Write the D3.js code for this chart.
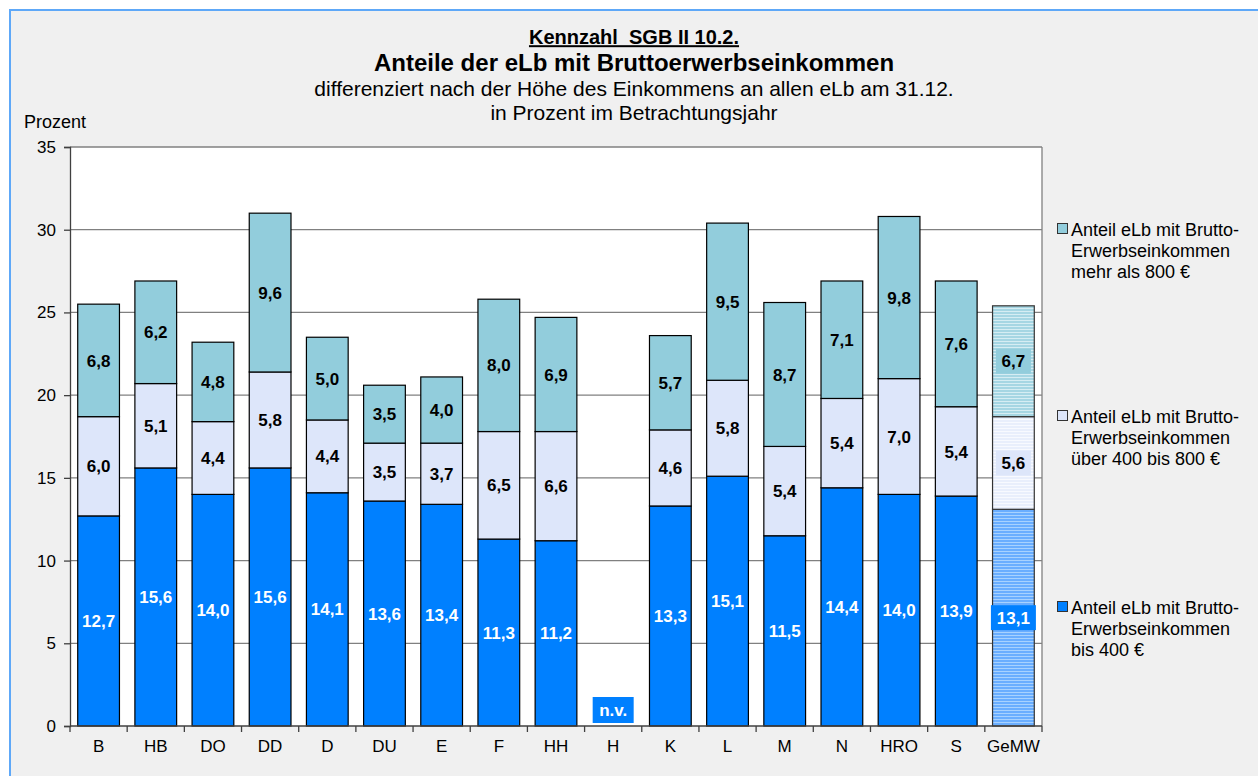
<!DOCTYPE html>
<html>
<head>
<meta charset="utf-8">
<script src="https://cdn.jsdelivr.net/npm/d3@7"></script>
<style>
  html, body { margin: 0; padding: 0; background: #ffffff; }
  svg { display: block; font-family: "Liberation Sans", Arial, sans-serif; }
</style>
</head>
<body>
<svg id="chart" width="1258" height="776"></svg>
<script>
// ---------- data ----------
const categories = ["B","HB","DO","DD","D","DU","E","F","HH","H","K","L","M","N","HRO","S","GeMW"];
const bis400      = [12.7,15.6,14.0,15.6,14.1,13.6,13.4,11.3,11.2,null,13.3,15.1,11.5,14.4,14.0,13.9,13.1];
const von400bis800= [6.0, 5.1, 4.4, 5.8, 4.4, 3.5, 3.7, 6.5, 6.6, null, 4.6, 5.8, 5.4, 5.4, 7.0, 5.4, 5.6];
const mehr800     = [6.8, 6.2, 4.8, 9.6, 5.0, 3.5, 4.0, 8.0, 6.9, null, 5.7, 9.5, 8.7, 7.1, 9.8, 7.6, 6.7];
const yTicks = [0,5,10,15,20,25,30,35];
const seriesNames = [
  ["Anteil eLb mit Brutto-","Erwerbseinkommen","mehr als 800 €"],
  ["Anteil eLb mit Brutto-","Erwerbseinkommen","über 400 bis 800 €"],
  ["Anteil eLb mit Brutto-","Erwerbseinkommen","bis 400 €"]
];
const titleLines = ["Kennzahl  SGB II 10.2.", "Anteile der eLb mit Bruttoerwerbseinkommen",
  "differenziert nach der Höhe des Einkommens an allen eLb am 31.12.", "in Prozent im Betrachtungsjahr"];
const yAxisTitle = "Prozent";
const missingLabel = "n.v.";
const averageCategory = "GeMW";

// ---------- styles ----------
const colBottom = "#0080ff", colMid = "#dde6fa", colTop = "#92cddc";

const svg = d3.select("#chart");
const defs = svg.append("defs");
function stripe(id, a, b) {
  const p = defs.append("pattern").attr("id", id).attr("patternUnits","userSpaceOnUse")
    .attr("width", 8).attr("height", 3);
  p.append("rect").attr("width",8).attr("height",3).attr("fill", b);
  p.append("rect").attr("width",8).attr("height",2).attr("fill", a);
}
stripe("patBottom", "#6aaeff", "#a8d2ff");
stripe("patMid", "#e9effc", "#f8faff");
stripe("patTop", "#a6d6e3", "#d6edf3");

// frame
svg.append("rect").attr("x",0).attr("y",0).attr("width",1258).attr("height",776).attr("fill","#ffffff");
svg.append("rect").attr("x",10).attr("y",10).attr("width",1300).attr("height",800)
  .attr("fill","#f0f0f0").attr("stroke","#5ea8f8").attr("stroke-width",2);

const L = 70, R = 1042, T = 147, B = 726;
const x = d3.scaleBand().domain(categories).range([L, R]).paddingInner(0.27).paddingOuter(0.135);
const y = d3.scaleLinear().domain([0, 35]).range([B, T]);

// plot area
svg.append("rect").attr("x",L).attr("y",T).attr("width",R-L).attr("height",B-T).attr("fill","#ffffff");
svg.append("g").selectAll("line").data(yTicks.filter(d => d > 0)).join("line")
  .attr("x1",L).attr("x2",R).attr("y1",d=>y(d)).attr("y2",d=>y(d))
  .attr("stroke","#808080").attr("stroke-width",1.3);
svg.append("line").attr("x1",R).attr("x2",R).attr("y1",T).attr("y2",B)
  .attr("stroke","#808080").attr("stroke-width",1.3);

// stacked data
const stackData = categories.map((c,i) => ({cat:c, s0: bis400[i], s1: von400bis800[i], s2: mehr800[i]}));
const stack = d3.stack().keys(["s0","s1","s2"]).value((d,k) => d[k] == null ? 0 : d[k]);
const layers = stack(stackData);
const fills = [colBottom, colMid, colTop];
const pats = ["url(#patBottom)", "url(#patMid)", "url(#patTop)"];
const labelCols = ["#ffffff", "#000000", "#000000"];

layers.forEach((layer, li) => {
  const g = svg.append("g");
  g.selectAll("rect").data(layer.filter(d => d.data["s"+li] != null)).join("rect")
    .attr("x", d => x(d.data.cat)).attr("width", x.bandwidth())
    .attr("y", d => y(d[1])).attr("height", d => y(d[0]) - y(d[1]))
    .attr("fill", d => d.data.cat === averageCategory ? pats[li] : fills[li])
    .attr("stroke", d => d.data.cat === averageCategory ? "#333" : "#000")
    .attr("stroke-width", 1.2);
});

// labels
layers.forEach((layer, li) => {
  const g = svg.append("g");
  layer.filter(d => d.data["s"+li] != null).forEach(d => {
    const cx = x(d.data.cat) + x.bandwidth()/2;
    const cy = (y(d[0]) + y(d[1]))/2;
    const txt = d3.format(".1f")(d.data["s"+li]).replace(".", ",");
    if (d.data.cat === averageCategory) {
      const w = li === 0 ? 45 : 35;
      g.append("rect").attr("x", cx - w/2).attr("y", cy - 12.5).attr("width", w).attr("height", 25)
        .attr("fill", fills[li]);
    }
    g.append("text").attr("x", cx).attr("y", cy).attr("dy","0.36em")
      .attr("text-anchor","middle").attr("font-weight","bold").attr("font-size",17)
      .attr("fill", labelCols[li]).text(txt);
  });
});

// n.v. label
stackData.filter(d => d.s0 == null).forEach(d => {
  const cx = x(d.cat) + x.bandwidth()/2;
  svg.append("rect").attr("x", cx-20.5).attr("y", 697).attr("width", 41).attr("height", 26).attr("fill", colBottom);
  svg.append("text").attr("x", cx).attr("y", 710).attr("dy","0.36em").attr("text-anchor","middle")
    .attr("font-weight","bold").attr("font-size",17).attr("fill","#fff").text(missingLabel);
});

// axes
const yAxis = d3.axisLeft(y).tickValues(yTicks).tickSize(6).tickPadding(8);
const gy = svg.append("g").attr("transform",`translate(${L},0)`).call(yAxis);
gy.select(".domain").attr("stroke","#404040").attr("stroke-width",1.3);
gy.selectAll(".tick line").attr("stroke","#404040").attr("stroke-width",1.3);
gy.selectAll("text").attr("font-size",17).attr("fill","#000").attr("font-family","Liberation Sans, Arial, sans-serif");

const gx = svg.append("g").attr("transform",`translate(0,${B})`);
gx.append("line").attr("x1",L).attr("x2",R).attr("stroke","#404040").attr("stroke-width",1.3);
const step = x.step();
const bounds = d3.range(categories.length+1).map(i => L + i*step);
gx.selectAll(".tk").data(bounds).join("line").attr("class","tk")
  .attr("x1",d=>d).attr("x2",d=>d).attr("y1",0).attr("y2",6).attr("stroke","#404040").attr("stroke-width",1.3);
gx.selectAll("text").data(categories).join("text")
  .attr("x", d => x(d) + x.bandwidth()/2).attr("y", 20).attr("dy","0.36em")
  .attr("text-anchor","middle").attr("font-size",17).attr("fill","#000").text(d => d);

// titles
const tx = 634;
svg.append("text").attr("x",tx).attr("y",37).attr("dy","0.36em").attr("text-anchor","middle")
  .attr("font-weight","bold").attr("font-size",20).style("text-decoration","underline")
  .style("white-space","pre").text(titleLines[0]);
svg.append("text").attr("x",tx).attr("y",62).attr("dy","0.36em").attr("text-anchor","middle")
  .attr("font-weight","bold").attr("font-size",24).text(titleLines[1]);
svg.append("text").attr("x",tx).attr("y",88).attr("dy","0.36em").attr("text-anchor","middle")
  .attr("font-size",21).text(titleLines[2]);
svg.append("text").attr("x",tx).attr("y",112).attr("dy","0.36em").attr("text-anchor","middle")
  .attr("font-size",21).text(titleLines[3]);
svg.append("text").attr("x",24).attr("y",122).attr("dy","0.36em").attr("font-size",18).text(yAxisTitle);

// legend
const legY = [230, 417, 608];
const legFill = [colTop, colMid, colBottom];
seriesNames.forEach((lines, i) => {
  svg.append("rect").attr("x",1057.5).attr("y",legY[i]-6.5).attr("width",10).attr("height",10)
    .attr("fill",legFill[i]).attr("stroke","#333").attr("stroke-width",1);
  lines.forEach((ln, j) => {
    svg.append("text").attr("x",1071).attr("y",legY[i] + j*21).attr("dy","0.36em")
      .attr("font-size",18).text(ln);
  });
});
</script>
</body>
</html>
